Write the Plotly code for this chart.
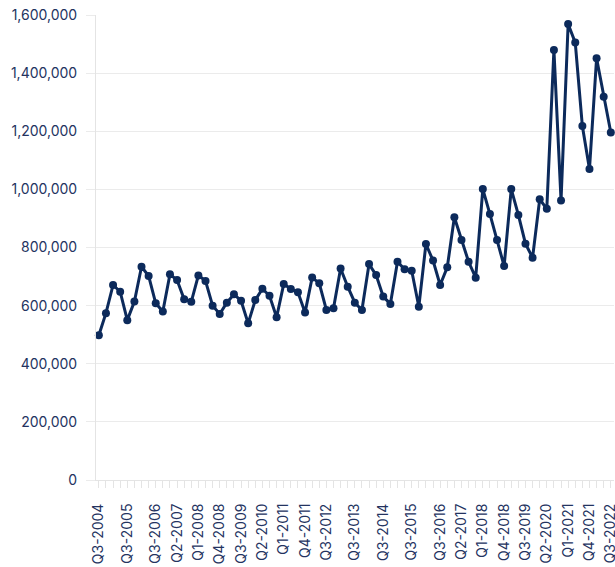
import plotly.graph_objects as go

quarters = [
    "Q3-2004", "Q4-2004",
    "Q1-2005", "Q2-2005", "Q3-2005", "Q4-2005",
    "Q1-2006", "Q2-2006", "Q3-2006", "Q4-2006",
    "Q1-2007", "Q2-2007", "Q3-2007", "Q4-2007",
    "Q1-2008", "Q2-2008", "Q3-2008", "Q4-2008",
    "Q1-2009", "Q2-2009", "Q3-2009", "Q4-2009",
    "Q1-2010", "Q2-2010", "Q3-2010", "Q4-2010",
    "Q1-2011", "Q2-2011", "Q3-2011", "Q4-2011",
    "Q1-2012", "Q2-2012", "Q3-2012", "Q4-2012",
    "Q1-2013", "Q2-2013", "Q3-2013", "Q4-2013",
    "Q1-2014", "Q2-2014", "Q3-2014", "Q4-2014",
    "Q1-2015", "Q2-2015", "Q3-2015", "Q4-2015",
    "Q1-2016", "Q2-2016", "Q3-2016", "Q4-2016",
    "Q1-2017", "Q2-2017", "Q3-2017", "Q4-2017",
    "Q1-2018", "Q2-2018", "Q3-2018", "Q4-2018",
    "Q1-2019", "Q2-2019", "Q3-2019", "Q4-2019",
    "Q1-2020", "Q2-2020", "Q3-2020", "Q4-2020",
    "Q1-2021", "Q2-2021", "Q3-2021", "Q4-2021",
    "Q1-2022", "Q2-2022", "Q3-2022",
]

values = [
    498000, 574000,
    671000, 648000, 550000, 614000,
    734000, 702000, 608000, 580000,
    708000, 688000, 622000, 613000,
    704000, 685000, 600000, 571000,
    610000, 639000, 617000, 539000,
    619000, 658000, 634000, 560000,
    674000, 657000, 646000, 576000,
    697000, 677000, 585000, 591000,
    728000, 665000, 610000, 585000,
    743000, 705000, 631000, 606000,
    751000, 725000, 720000, 596000,
    812000, 755000, 671000, 732000,
    904000, 826000, 751000, 696000,
    1001000, 915000, 826000, 736000,
    1001000, 912000, 813000, 765000,
    966000, 933000, 1480000, 962000,
    1569000, 1505000, 1218000, 1070000,
    1451000, 1319000, 1196000,
]

tick_labels = [
    "Q3-2004", "Q3-2005", "Q3-2006", "Q2-2007", "Q1-2008", "Q4-2008",
    "Q3-2009", "Q2-2010", "Q1-2011", "Q4-2011", "Q3-2012", "Q3-2013",
    "Q3-2014", "Q3-2015", "Q3-2016", "Q2-2017", "Q1-2018", "Q4-2018",
    "Q3-2019", "Q2-2020", "Q1-2021", "Q4-2021", "Q3-2022",
]

y_ticks = [0, 200000, 400000, 600000, 800000, 1000000, 1200000, 1400000, 1600000]

navy = "#0c2a5b"
text_col = "#24335f"
grid_col = "#ebebeb"
font_family = "Inter, Lato, 'Open Sans', sans-serif"

fig = go.Figure()
fig.add_trace(go.Scatter(
    x=quarters,
    y=values,
    mode="lines+markers",
    line=dict(color=navy, width=3),
    marker=dict(color=navy, size=8),
    showlegend=False,
    cliponaxis=False,
))

fig.update_layout(
    width=615,
    height=567,
    margin=dict(l=96, r=1, t=15, b=87),
    paper_bgcolor="white",
    plot_bgcolor="white",
    font=dict(family=font_family, size=14, color=text_col),
    xaxis=dict(
        type="category",
        range=[-0.4, 72.45],
        automargin=False,
        tickmode="array",
        tickvals=quarters,
        ticktext=[q if q in tick_labels else "" for q in quarters],
        tickangle=-90,
        ticks="outside",
        ticklen=7,
        tickcolor="#e4e4e4",
        ticklabelstandoff=10,
        showgrid=False,
        showline=True,
        linecolor="#e4e4e4",
        linewidth=1,
        tickfont=dict(size=14, color=text_col),
        zeroline=False,
    ),
    yaxis=dict(
        range=[0, 1600000],
        automargin=False,
        tickmode="array",
        tickvals=y_ticks,
        ticktext=[f"{v:,}" for v in y_ticks],
        ticks="outside",
        ticklen=9,
        tickcolor=grid_col,
        ticklabelstandoff=6,
        showgrid=True,
        gridcolor=grid_col,
        gridwidth=1,
        showline=True,
        linecolor="#e4e4e4",
        linewidth=1,
        zeroline=False,
        tickfont=dict(size=14, color=text_col),
    ),
)

fig.write_html(
    "out.html",
    config={"displayModeBar": False},
    post_script="document.body.style.margin='0';document.body.style.overflow='hidden';",
)
